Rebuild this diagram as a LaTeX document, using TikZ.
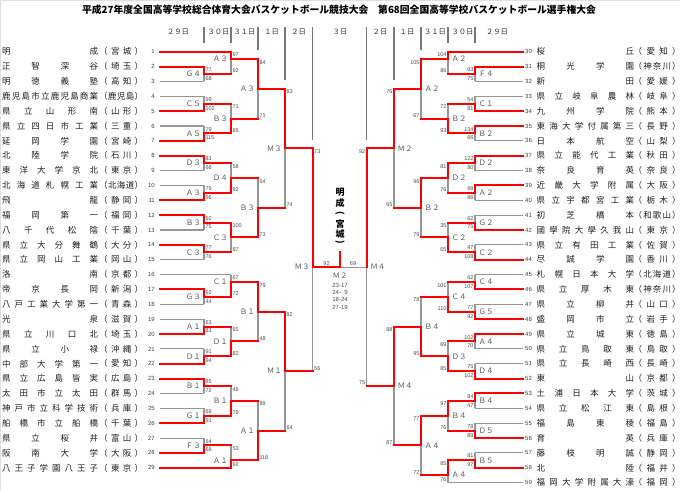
\documentclass[tikz,border=0pt]{standalone}
\usepackage{fontspec}
\setmainfont{Noto Sans CJK JP}
\newfontfamily\numf{Liberation Sans}
\definecolor{lgray}{RGB}{150,150,150}
\definecolor{hgray}{RGB}{120,120,120}
\definecolor{rd}{RGB}{255,0,0}
\pgfdeclarelayer{red}
\pgfdeclarelayer{txt}
\pgfsetlayers{main,red,txt}
\makeatletter
\newcommand\sprd[1]{\@tfor\sprx:=#1\do{\sprx\hskip0pt plus 1fill minus 1fill}\hskip0pt plus -1fill minus -1fill\relax}
\makeatother
\newcommand\hseg[4]{\if#1W\begin{pgfonlayer}{red}\draw[rl] (#2,#4) -- (#3,#4);\end{pgfonlayer}\else\draw[gl] (#2,#4) -- (#3,#4);\fi}
\newcommand\teamL[5]{%
 \pgfmathsetmacro\myTy{51.7+14.86*(#1-1)}%
 \node[nm,anchor=west] (tn#1) at (2,\myTy) {\makebox[96pt][s]{\sprd{#2}}};
 \node[nm,anchor=west] (tp#1) at (99,\myTy) {\makebox[44pt][s]{\sprd{（#3）}}};
 \node[num,anchor=east] (tk#1) at (155,\myTy) {#1};
 \hseg{#4}{160}{#5}{\myTy}}
\newcommand\teamR[5]{%
 \pgfmathsetmacro\myTy{51.7+14.86*(#1-30)}%
 \node[nm,anchor=west] (tn#1) at (536.5,\myTy) {\makebox[97.5pt][s]{\sprd{#2}}};
 \node[nm,anchor=west] (tp#1) at (633.5,\myTy) {\makebox[47pt][s]{\sprd{（#3）}}};
 \node[num,anchor=west] (tk#1) at (525,\myTy) {#1};
 \hseg{#4}{#5}{522.7}{\myTy}}
\newcommand\mL[9]{%
 \pgfmathsetmacro\myYt{51.7+7.43*#3}%
 \pgfmathsetmacro\myYb{51.7+7.43*#4}%
 \pgfmathsetmacro\myYo{51.7+7.43*#5}%
 \draw[gl] (#1,\myYt) -- (#1,\myYb);
 \begin{pgfonlayer}{red}
 \if#8t\draw[rl] (#1,\myYt) -- (#1,\myYo);\else\draw[rl] (#1,\myYb) -- (#1,\myYo);\fi
 \draw[rl] (#1,\myYo) -- (#2,\myYo);
 \end{pgfonlayer}
 \begin{pgfonlayer}{txt}
 \node[sc,anchor=north west] at (#1+1.3,\myYt+1) {#6};
 \node[sc,anchor=south west] at (#1+1.3,\myYb-0.8) {#7};
 \node[lb,anchor=east] at (#1-3,\myYo) {#9};
 \end{pgfonlayer}}
\newcommand\mR[9]{%
 \pgfmathsetmacro\myYt{51.7+7.43*#3}%
 \pgfmathsetmacro\myYb{51.7+7.43*#4}%
 \pgfmathsetmacro\myYo{51.7+7.43*#5}%
 \draw[gl] (#1,\myYt) -- (#1,\myYb);
 \begin{pgfonlayer}{red}
 \if#8t\draw[rl] (#1,\myYt) -- (#1,\myYo);\else\draw[rl] (#1,\myYb) -- (#1,\myYo);\fi
 \draw[rl] (#1,\myYo) -- (#2,\myYo);
 \end{pgfonlayer}
 \begin{pgfonlayer}{txt}
 \node[sc,anchor=north east] at (#1-1.3,\myYt+1) {#6};
 \node[sc,anchor=south east] at (#1-1.3,\myYb-0.8) {#7};
 \node[lb,anchor=west] at (#1+3.5,\myYo) {#9};
 \end{pgfonlayer}}
\begin{document}
\begin{tikzpicture}[x=1pt,y=-1pt,
  gl/.style={draw=lgray,line width=1.1pt},
  rl/.style={draw=rd,line width=2pt,line cap=rect},
  sepl/.style={draw=hgray,line width=1.1pt},
  nm/.style={font=\fontsize{8.5}{9}\selectfont,inner sep=0pt,text=black!88},
  num/.style={font=\numf\fontsize{6}{6}\selectfont,inner sep=0pt,text=black!75},
  sc/.style={font=\numf\fontsize{5.5}{5.5}\selectfont,inner sep=0pt,text=black!70},
  lb/.style={font=\fontsize{7.5}{8}\selectfont,inner sep=0pt,text=black!65},
  hd/.style={font=\fontsize{7.3}{8}\selectfont,inner sep=0pt,text=black!80}]
\useasboundingbox (0,0) rectangle (680,490);
\fill[white] (0,0) rectangle (680,490);
\draw[black!12,line width=0.8pt] (0.4,490) -- (0.4,0.4) -- (680,0.4);
% title
\node[font=\fontsize{9.8}{10}\selectfont\bfseries,inner sep=0pt] (title) at (339,9.5) {平成27年度全国高等学校総合体育大会バスケットボール競技大会　第68回全国高等学校バスケットボール選手権大会};
% header
\node[hd] (h1) at (178,32) {２９日};
\node[hd] (h2) at (218.5,32) {３０日};
\node[hd] (h3) at (244.5,32) {３１日};
\node[hd] (h4) at (271.7,32) {１日};
\node[hd] (h5) at (298.7,32) {２日};
\node[hd] (h6) at (340,32) {３日};
\node[hd] (h7) at (380,32) {２日};
\node[hd] (h8) at (407,32) {１日};
\node[hd] (h9) at (435,32) {３１日};
\node[hd] (h10) at (462.5,32) {３０日};
\node[hd] (h11) at (497,32) {２９日};
\draw[sepl] (204,26.5) -- (204,43);
\draw[sepl] (231,26.5) -- (231,43);
\draw[sepl] (258,26.5) -- (258,50);
\draw[sepl] (285,26.5) -- (285,80);
\draw[sepl] (312.7,26.5) -- (312.7,140);
\draw[sepl] (366.7,26.5) -- (366.7,140);
\draw[sepl] (394,26.5) -- (394,80);
\draw[sepl] (421,26.5) -- (421,50);
\draw[sepl] (448,26.5) -- (448,43);
\draw[sepl] (475,26.5) -- (475,43);
% left teams
\teamL{1}{明成}{宮城}{W}{231}
\teamL{2}{正智深谷}{埼玉}{W}{204}
\teamL{3}{明徳義塾}{高知}{L}{204}
\teamL{4}{鹿児島市立鹿児島商業}{鹿児島}{L}{204}
\teamL{5}{県立山形南}{山形}{W}{204}
\teamL{6}{県立四日市工業}{三重}{L}{204}
\teamL{7}{延岡学園}{宮崎}{W}{204}
\teamL{8}{北陸学院}{石川}{W}{204}
\teamL{9}{東洋大学京北}{東京}{L}{204}
\teamL{10}{北海道札幌工業}{北海道}{L}{204}
\teamL{11}{飛龍}{静岡}{W}{204}
\teamL{12}{福岡第一}{福岡}{W}{204}
\teamL{13}{八千代松陰}{千葉}{L}{204}
\teamL{14}{県立大分舞鶴}{大分}{W}{204}
\teamL{15}{県立岡山工業}{岡山}{L}{204}
\teamL{16}{洛南}{京都}{L}{231}
\teamL{17}{帝京長岡}{新潟}{W}{204}
\teamL{18}{八戸工業大学第一}{青森}{L}{204}
\teamL{19}{光泉}{滋賀}{L}{204}
\teamL{20}{県立川口北}{埼玉}{W}{204}
\teamL{21}{県立小禄}{沖縄}{L}{204}
\teamL{22}{中部大学第一}{愛知}{W}{204}
\teamL{23}{県立広島皆実}{広島}{W}{204}
\teamL{24}{太田市立太田}{群馬}{L}{204}
\teamL{25}{神戸市立科学技術}{兵庫}{L}{204}
\teamL{26}{船橋市立船橋}{千葉}{W}{204}
\teamL{27}{県立桜井}{富山}{L}{204}
\teamL{28}{阪南大学}{大阪}{W}{204}
\teamL{29}{八王子学園八王子}{東京}{W}{231}
% right teams
\teamR{30}{桜丘}{愛知}{W}{448}
\teamR{31}{桐光学園}{神奈川}{W}{475}
\teamR{32}{新田}{愛媛}{L}{475}
\teamR{33}{県立岐阜農林}{岐阜}{L}{475}
\teamR{34}{九州学院}{熊本}{W}{475}
\teamR{35}{東海大学付属第三}{長野}{W}{475}
\teamR{36}{日本航空}{山梨}{L}{475}
\teamR{37}{県立能代工業}{秋田}{W}{475}
\teamR{38}{奈良育英}{奈良}{L}{475}
\teamR{39}{近畿大学附属}{大阪}{W}{475}
\teamR{40}{県立宇都宮工業}{栃木}{L}{475}
\teamR{41}{初芝橋本}{和歌山}{L}{475}
\teamR{42}{國學院大學久我山}{東京}{W}{475}
\teamR{43}{県立有田工業}{佐賀}{L}{475}
\teamR{44}{尽誠学園}{香川}{W}{475}
\teamR{45}{札幌日本大学}{北海道}{L}{475}
\teamR{46}{県立厚木東}{神奈川}{W}{475}
\teamR{47}{県立柳井}{山口}{L}{475}
\teamR{48}{盛岡市立}{岩手}{W}{475}
\teamR{49}{県立城東}{徳島}{W}{475}
\teamR{50}{県立鳥取東}{鳥取}{L}{475}
\teamR{51}{県立長崎西}{長崎}{L}{475}
\teamR{52}{東山}{京都}{W}{475}
\teamR{53}{土浦日本大学}{茨城}{W}{475}
\teamR{54}{県立松江東}{島根}{L}{475}
\teamR{55}{福島東稜}{福島}{L}{475}
\teamR{56}{育英}{兵庫}{W}{475}
\teamR{57}{藤枝明誠}{静岡}{L}{475}
\teamR{58}{北陸}{福井}{W}{475}
\teamR{59}{福岡大学附属大濠}{福岡}{L}{448}
% left bracket
\mL{204}{231}{2}{4}{3}{77}{68}{t}{Ｇ４}
\mL{204}{231}{6}{8}{7}{99}{102}{b}{Ｃ５}
\mL{204}{231}{10}{12}{11}{79}{115}{b}{Ａ５}
\mL{204}{231}{14}{16}{15}{83}{68}{t}{Ｄ３}
\mL{204}{231}{18}{20}{19}{79}{96}{b}{Ａ３}
\mL{204}{231}{22}{24}{23}{92}{75}{t}{Ｂ３}
\mL{204}{231}{26}{28}{27}{77}{76}{t}{Ｃ３}
\mL{204}{231}{32}{34}{33}{92}{44}{t}{Ｇ３}
\mL{204}{231}{36}{38}{37}{63}{83}{b}{Ａ１}
\mL{204}{231}{40}{42}{41}{91}{94}{b}{Ｄ１}
\mL{204}{231}{44}{46}{45}{85}{72}{t}{Ｂ１}
\mL{204}{231}{48}{50}{49}{69}{91}{b}{Ｇ１}
\mL{204}{231}{52}{54}{53}{64}{68}{b}{Ｆ３}
\mL{231}{258}{0}{3}{1}{97}{92}{t}{Ａ３}
\mL{231}{258}{7}{11}{9}{71}{85}{b}{Ｂ３}
\mL{231}{258}{15}{19}{17}{58}{92}{b}{Ｄ４}
\mL{231}{258}{23}{27}{25}{100}{87}{t}{Ｃ３}
\mL{231}{258}{30}{33}{31}{67}{72}{b}{Ｃ１}
\mL{231}{258}{37}{41}{39}{65}{82}{b}{Ｄ１}
\mL{231}{258}{45}{49}{47}{48}{79}{b}{Ｂ１}
\mL{231}{258}{53}{56}{55}{53}{92}{b}{Ａ１}
\mL{258}{285}{1}{9}{5}{84}{71}{t}{Ａ３}
\mL{258}{285}{17}{25}{21}{64}{73}{b}{Ｂ３}
\mL{258}{285}{31}{39}{35}{79}{48}{t}{Ｂ１}
\mL{258}{285}{47}{55}{51}{89}{118}{b}{Ａ１}
\mL{285}{312.7}{5}{21}{13}{83}{74}{t}{Ｍ３}
\mL{285}{312.7}{35}{51}{43}{82}{64}{t}{Ｍ１}
\mL{312.7}{340}{13}{43}{29}{73}{56}{t}{Ｍ３}
% right bracket
\mR{475}{448}{2}{4}{3}{93}{75}{t}{Ｆ４}
\mR{475}{448}{6}{8}{7}{54}{81}{b}{Ｃ１}
\mR{475}{448}{10}{12}{11}{134}{66}{t}{Ｂ２}
\mR{475}{448}{14}{16}{15}{122}{80}{t}{Ｄ２}
\mR{475}{448}{18}{20}{19}{98}{86}{t}{Ａ２}
\mR{475}{448}{22}{24}{23}{62}{75}{b}{Ｇ２}
\mR{475}{448}{26}{28}{27}{47}{108}{b}{Ｃ２}
\mR{475}{448}{30}{32}{31}{62}{107}{b}{Ｃ４}
\mR{475}{448}{34}{36}{35}{77}{92}{b}{Ｇ５}
\mR{475}{448}{38}{40}{39}{102}{70}{t}{Ａ４}
\mR{475}{448}{42}{44}{43}{75}{102}{b}{Ｄ４}
\mR{475}{448}{46}{48}{47}{84}{47}{t}{Ｂ４}
\mR{475}{448}{50}{52}{51}{78}{89}{b}{Ｄ５}
\mR{475}{448}{54}{56}{55}{81}{97}{b}{Ｂ５}
\mR{448}{421}{0}{3}{1}{104}{86}{t}{Ａ２}
\mR{448}{421}{7}{11}{9}{72}{93}{b}{Ｂ２}
\mR{448}{421}{15}{19}{17}{81}{76}{t}{Ｄ２}
\mR{448}{421}{23}{27}{25}{35}{65}{b}{Ｃ２}
\mR{448}{421}{31}{35}{33}{101}{110}{b}{Ｃ４}
\mR{448}{421}{39}{43}{41}{69}{85}{b}{Ｄ３}
\mR{448}{421}{47}{51}{49}{97}{76}{t}{Ｂ４}
\mR{448}{421}{55}{58}{57}{85}{76}{t}{Ａ４}
\mR{421}{394}{1}{9}{5}{105}{67}{t}{Ａ２}
\mR{421}{394}{17}{25}{21}{96}{79}{t}{Ｂ２}
\mR{421}{394}{33}{41}{37}{78}{95}{b}{Ｂ４}
\mR{421}{394}{49}{57}{53}{77}{72}{t}{Ａ４}
\mR{394}{366.7}{5}{21}{13}{76}{65}{t}{Ｍ２}
\mR{394}{366.7}{37}{53}{45}{88}{87}{t}{Ｍ４}
% right semifinal
\coordinate (rsT) at (366.7,148.29);
\coordinate (rsO) at (366.7,267.17);
\coordinate (rsB) at (366.7,386.05);
\coordinate (fin) at (340,267.17);
\coordinate (finT) at (340,251.7);
\draw[gl] (rsT) -- (rsB);
\draw[gl] (rsO) -- (fin);
\begin{pgfonlayer}{red}
\draw[rl] (rsT) -- (rsO);
\draw[rl] (fin) -- (finT);
\end{pgfonlayer}
\begin{pgfonlayer}{txt}
\node[sc,anchor=north east] (rs1) at (365.4,149.3) {92};
\node[sc,anchor=south east] (rs2) at (365.4,385.2) {75};
\node[lb,anchor=west] (rsl) at (370.2,267.17) {Ｍ４};
\node[sc,anchor=south] (f1) at (326.5,265.3) {92};
\node[sc,anchor=south] (f2) at (353,265.3) {69};
\end{pgfonlayer}
% winner
\begin{scope}[every node/.style={font=\fontsize{9}{9}\selectfont\bfseries,inner sep=0pt}]
\node (w1) at (340,192) {明};
\node (w2) at (340,203) {成};
\node[rotate=-90] (w3) at (340,213.5) {(};
\node (w4) at (340,224) {宮};
\node (w5) at (340,234.5) {城};
\node[rotate=-90] (w6) at (340,242) {)};
\end{scope}
% final box
\node[lb] (m2) at (340,275.5) {Ｍ２};
\node[sc,font=\numf\fontsize{6}{6}\selectfont] (q1) at (340,285.2) {23-17};
\node[sc,font=\numf\fontsize{6}{6}\selectfont] (q2) at (340,292.5) {24-\hphantom{1}9};
\node[sc,font=\numf\fontsize{6}{6}\selectfont] (q3) at (340,299.8) {18-24};
\node[sc,font=\numf\fontsize{6}{6}\selectfont] (q4) at (340,307.1) {27-19};
\end{tikzpicture}
\end{document}
